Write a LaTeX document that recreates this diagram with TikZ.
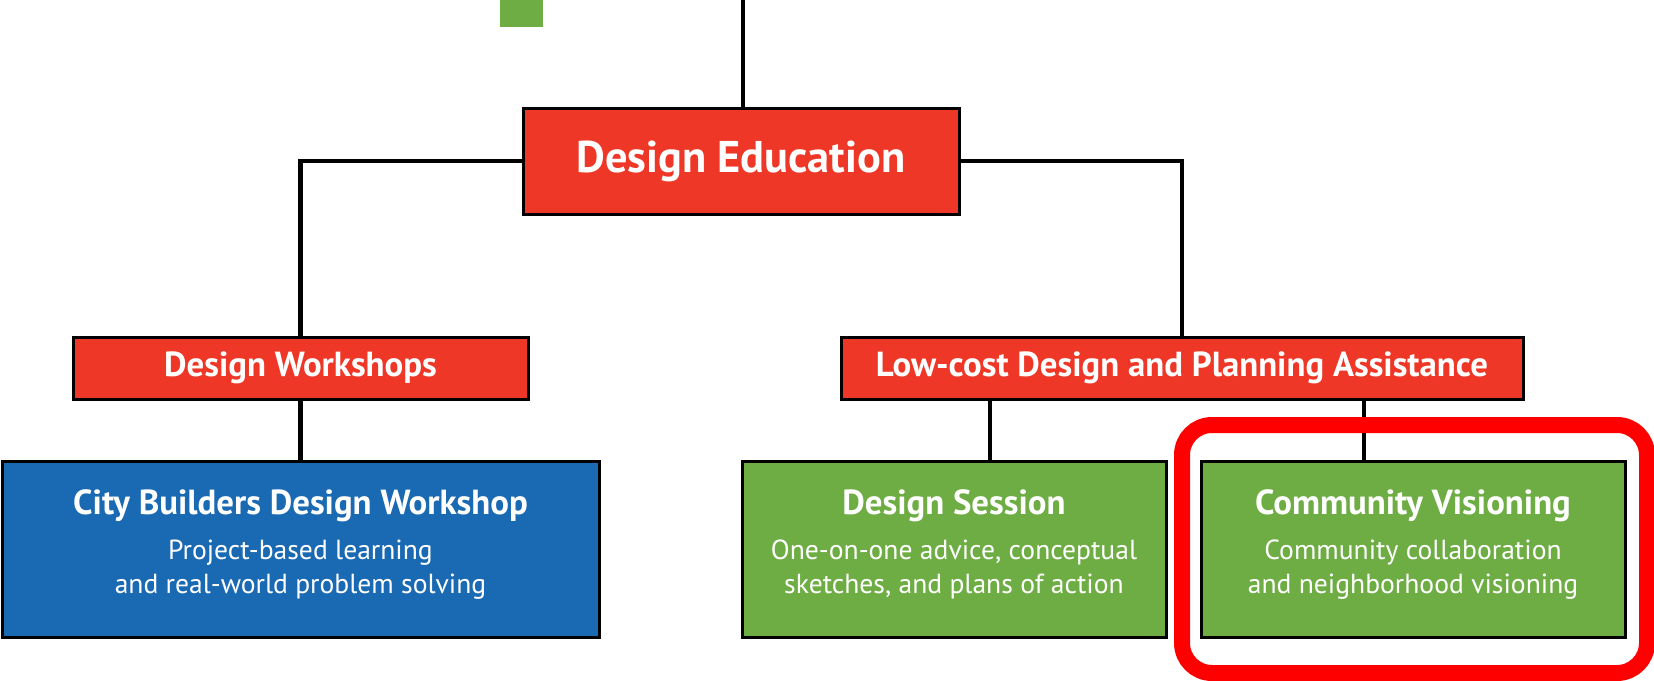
\documentclass[tikz,border=0pt]{standalone}
\usepackage{fontspec}
\setmainfont{PT Sans}
\definecolor{boxred}{HTML}{EE3726}
\definecolor{boxblue}{HTML}{1A69B3}
\definecolor{boxgreen}{HTML}{6EAD44}
\definecolor{framered}{HTML}{FF0000}
\begin{document}
\begin{tikzpicture}[x=0.5pt,y=-0.5pt]
\useasboundingbox (0,0) rectangle (1654,680);
\tikzset{headbox/.style={draw=black,line width=1.5pt,fill=boxred,text=white,inner sep=0pt}};
\tikzset{itembox/.style={draw=black,line width=1.5pt,text=white,inner sep=0pt,align=center,text depth=7.5pt,
  minimum width=212pt,minimum height=88pt,font=\fontsize{13.8}{17}\selectfont}};
\tikzset{link/.style={draw=black,line width=2.2pt}};
\newcommand{\itemtitle}[1]{{\bfseries\fontsize{17.4}{20}\selectfont #1}\\[5.5pt]}

\fill[boxgreen] (500,0) rectangle (543,27);
\coordinate (top) at (743,0);

\node[headbox,minimum width=218pt,minimum height=53pt,font=\bfseries\fontsize{22.2}{26}\selectfont] (DE) at (741,161) {Design Education};

\node[headbox,minimum width=227.5pt,minimum height=31pt,font=\bfseries\fontsize{17.4}{20}\selectfont] (DW) at (300.5,368) {Design Workshops};
\node[headbox,minimum width=341pt,minimum height=31pt,font=\bfseries\fontsize{17.4}{20}\selectfont] (LC) at (1182,368) {Low-cost Design and Planning Assistance};

\node[itembox,fill=boxblue,minimum width=298.5pt] (CB) at (300.5,549) {\itemtitle{City Builders Design Workshop}Project-based learning\\and real-world problem solving};
\node[itembox,fill=boxgreen] (DS) at (954,549) {\itemtitle{Design Session}One-on-one advice, conceptual\\sketches, and plans of action};
\node[itembox,fill=boxgreen] (CV) at (1413,549) {\itemtitle{Community Visioning}Community collaboration\\and neighborhood visioning};

\path (top) edge [link] (top |- DE.north);
\draw[link] (DE.west) -| (DW.north);
\draw[link] (DE.east) -| (LC.north);
\path (DW.south) edge [link] (CB.north);
\path (LC.south -| 990,0) edge [link] (DS.north -| 990,0);
\path (LC.south -| 1364,0) edge [link] (CV.north -| 1364,0);

\draw[framered,line width=8pt,rounded corners=15pt] (1182,425) rectangle (1647,673);
\end{tikzpicture}
\end{document}
